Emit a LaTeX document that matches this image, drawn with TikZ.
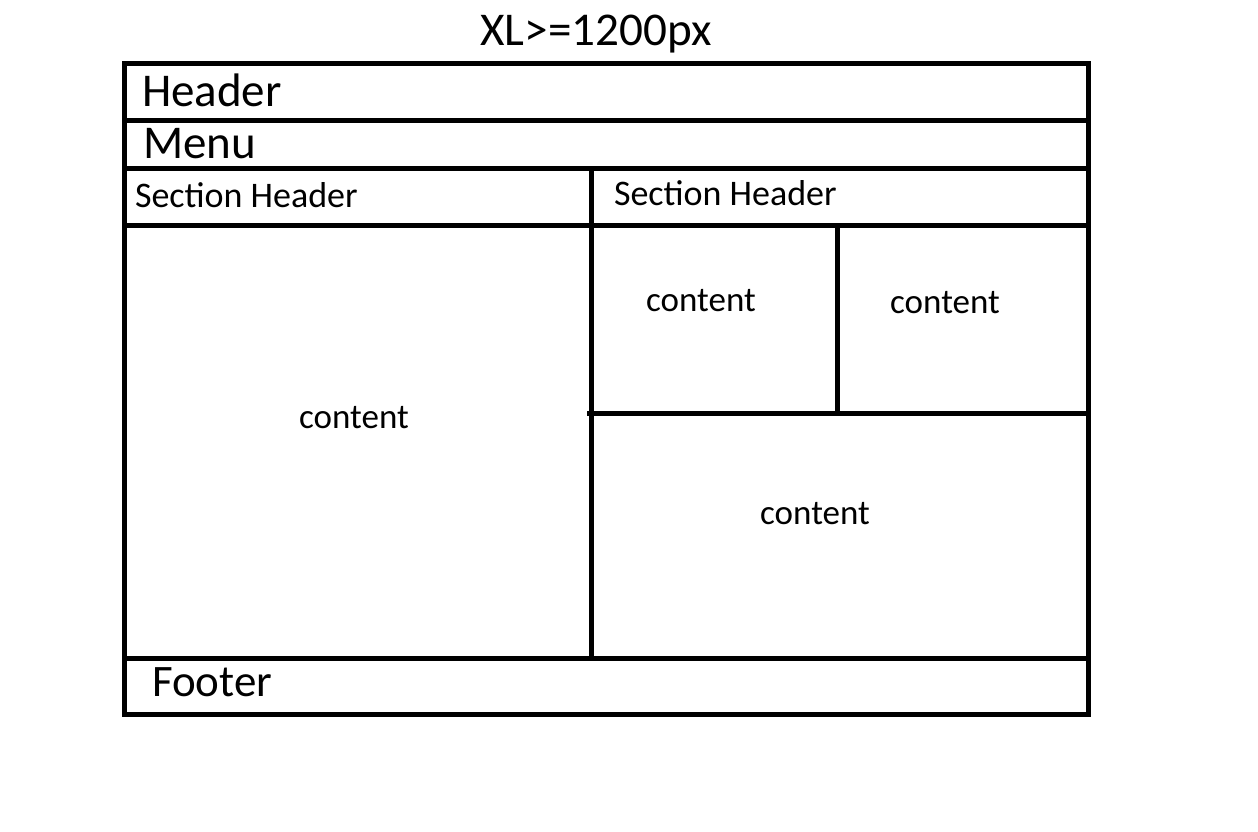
\documentclass[tikz,border=0pt]{standalone}
\usepackage{fontspec}
\setmainfont{Carlito}
\begin{document}
\begin{tikzpicture}[x=1pt,y=-1pt,
  frame/.style={line width=5pt,line cap=rect},
  lbl/.style={anchor=base west,inner sep=0pt,outer sep=0pt},
  clbl/.style={anchor=base,inner sep=0pt,outer sep=0pt,font=\fontsize{35}{40}\selectfont}]
\useasboundingbox (0,0) rectangle (1258,832);

% outer frame and horizontal bands
\draw[frame] (124,64) rectangle (1088,714);
\draw[frame] (124,121) -- (1088,121);
\draw[frame] (124,168) -- (1088,168);
\draw[frame] (124,225) -- (1088,225);
\draw[frame] (124,658) -- (1088,658);
% column split and the right-hand grid
\draw[frame] (591,168) -- (591,658);
\draw[frame] (837,225) -- (837,413);
\draw[frame] (589,413) -- (1088,413);

% labels
\node[anchor=base,inner sep=0pt] (title) at (596,46)
  {\resizebox{231pt}{\height}{\fontsize{47}{50}\selectfont XL>=1200px}};
\node[lbl,font=\fontsize{47}{50}\selectfont] (header) at (142,107) {Header};
\node[lbl,font=\fontsize{47}{50}\selectfont] (menu) at (143,158) {Menu};
\node[lbl,font=\fontsize{36}{40}\selectfont] (shl) at (135,207) {Section Header};
\node[lbl,font=\fontsize{36}{40}\selectfont] (shr) at (614,205) {Section Header};
\node[clbl] (cl) at (354,428) {content};
\node[clbl] (ca) at (701,311) {content};
\node[clbl] (cb) at (945,313) {content};
\node[clbl] (cc) at (815,524) {content};
\node[lbl,font=\fontsize{45}{50}\selectfont] (footer) at (152,696) {Footer};
\end{tikzpicture}
\end{document}
